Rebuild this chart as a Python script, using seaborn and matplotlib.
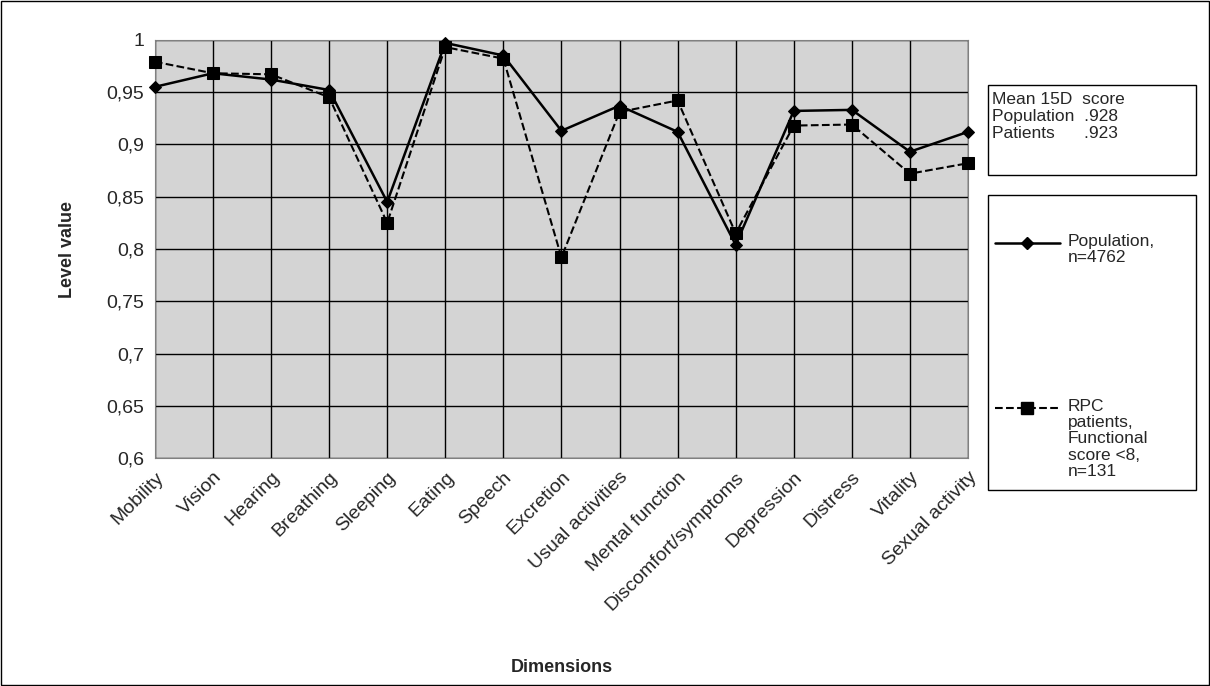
import matplotlib
matplotlib.use("Agg")
import matplotlib.pyplot as plt
import seaborn as sns
import pandas as pd
from matplotlib.patches import Rectangle
from matplotlib.lines import Line2D

dimensions = ["Mobility", "Vision", "Hearing", "Breathing", "Sleeping", "Eating", "Speech",
              "Excretion", "Usual activities", "Mental function", "Discomfort/symptoms",
              "Depression", "Distress", "Vitality", "Sexual activity"]
population = [0.955, 0.968, 0.962, 0.952, 0.845, 0.997, 0.985, 0.913, 0.937, 0.912,
              0.804, 0.932, 0.933, 0.893, 0.912]
patients = [0.979, 0.968, 0.967, 0.945, 0.825, 0.993, 0.982, 0.792, 0.931, 0.942,
            0.815, 0.918, 0.919, 0.872, 0.882]

sns.set_style("white")
plt.rcParams["font.family"] = ["Liberation Sans", "DejaVu Sans"]

df = pd.DataFrame({"x": range(len(dimensions)), "pop": population, "pat": patients})

fig = plt.figure(figsize=(12.1, 6.86), dpi=100)
ax = fig.add_axes([0.128, 0.332, 0.672, 0.61])
ax.set_facecolor("#D4D4D4")

sns.lineplot(data=df, x="x", y="pop", ax=ax, color="black", lw=1.8, marker="D",
             markersize=6, markeredgecolor="black", clip_on=False, zorder=5)
sns.lineplot(data=df, x="x", y="pat", ax=ax, color="black", lw=1.5, linestyle="--",
             marker="s", markersize=9, markeredgecolor="black", clip_on=False, zorder=5)

ax.set_xlim(0, len(dimensions) - 1)
ax.set_ylim(0.6, 1.0)
yt = [0.6 + 0.05 * i for i in range(9)]
ax.set_yticks(yt)
ax.set_yticklabels([("%.2f" % v).rstrip("0").rstrip(".").replace(".", ",") for v in yt], fontsize=14)
ax.set_xticks(range(len(dimensions)))
ax.set_xticklabels(dimensions, rotation=45, ha="right", rotation_mode="anchor", fontsize=14)
ax.grid(True, color="black", lw=1)
for s in ax.spines.values():
    s.set_color("#808080")
ax.tick_params(axis="both", length=4, color="black")
ax.set_xlabel("Dimensions", fontsize=13, fontweight="bold")
ax.set_ylabel("Level value", fontsize=13, fontweight="bold", labelpad=22)
ax.xaxis.set_label_coords(0.5, -0.48)

fig.patches.append(Rectangle((0.001, 0.001), 0.998, 0.998, transform=fig.transFigure,
                             fill=False, edgecolor="black", lw=1))
fig.patches.append(Rectangle((988 / 1210, 1 - 175 / 686), 208 / 1210, 90 / 686,
                             transform=fig.transFigure, fill=False, edgecolor="black", lw=1))
fig.text(992 / 1210, 1 - 92 / 686, "Mean 15D  score\nPopulation  .928\nPatients      .923",
         fontsize=12.5, va="top", linespacing=1.15)
fig.patches.append(Rectangle((988 / 1210, 1 - 490 / 686), 208 / 1210, 295 / 686,
                             transform=fig.transFigure, fill=False, edgecolor="black", lw=1))
fig.lines.append(Line2D([995 / 1210, 1060 / 1210], [1 - 243 / 686] * 2, transform=fig.transFigure,
                        color="black", lw=1.8))
fig.lines.append(Line2D([1027 / 1210], [1 - 243 / 686], transform=fig.transFigure,
                        color="black", marker="D", markersize=6))
fig.text(1068 / 1210, 1 - 234 / 686, "Population,\nn=4762", fontsize=12.5, va="top",
         ha="left", linespacing=1.1)
fig.lines.append(Line2D([995 / 1210, 1060 / 1210], [1 - 408 / 686] * 2, transform=fig.transFigure,
                        color="black", lw=1.5, linestyle="--"))
fig.lines.append(Line2D([1027 / 1210], [1 - 408 / 686], transform=fig.transFigure,
                        color="black", marker="s", markersize=9))
fig.text(1068 / 1210, 1 - 399 / 686, "RPC\npatients,\nFunctional\nscore <8,\nn=131",
         fontsize=12.5, va="top", ha="left", linespacing=1.1)

fig.savefig("out.png", dpi=100)
